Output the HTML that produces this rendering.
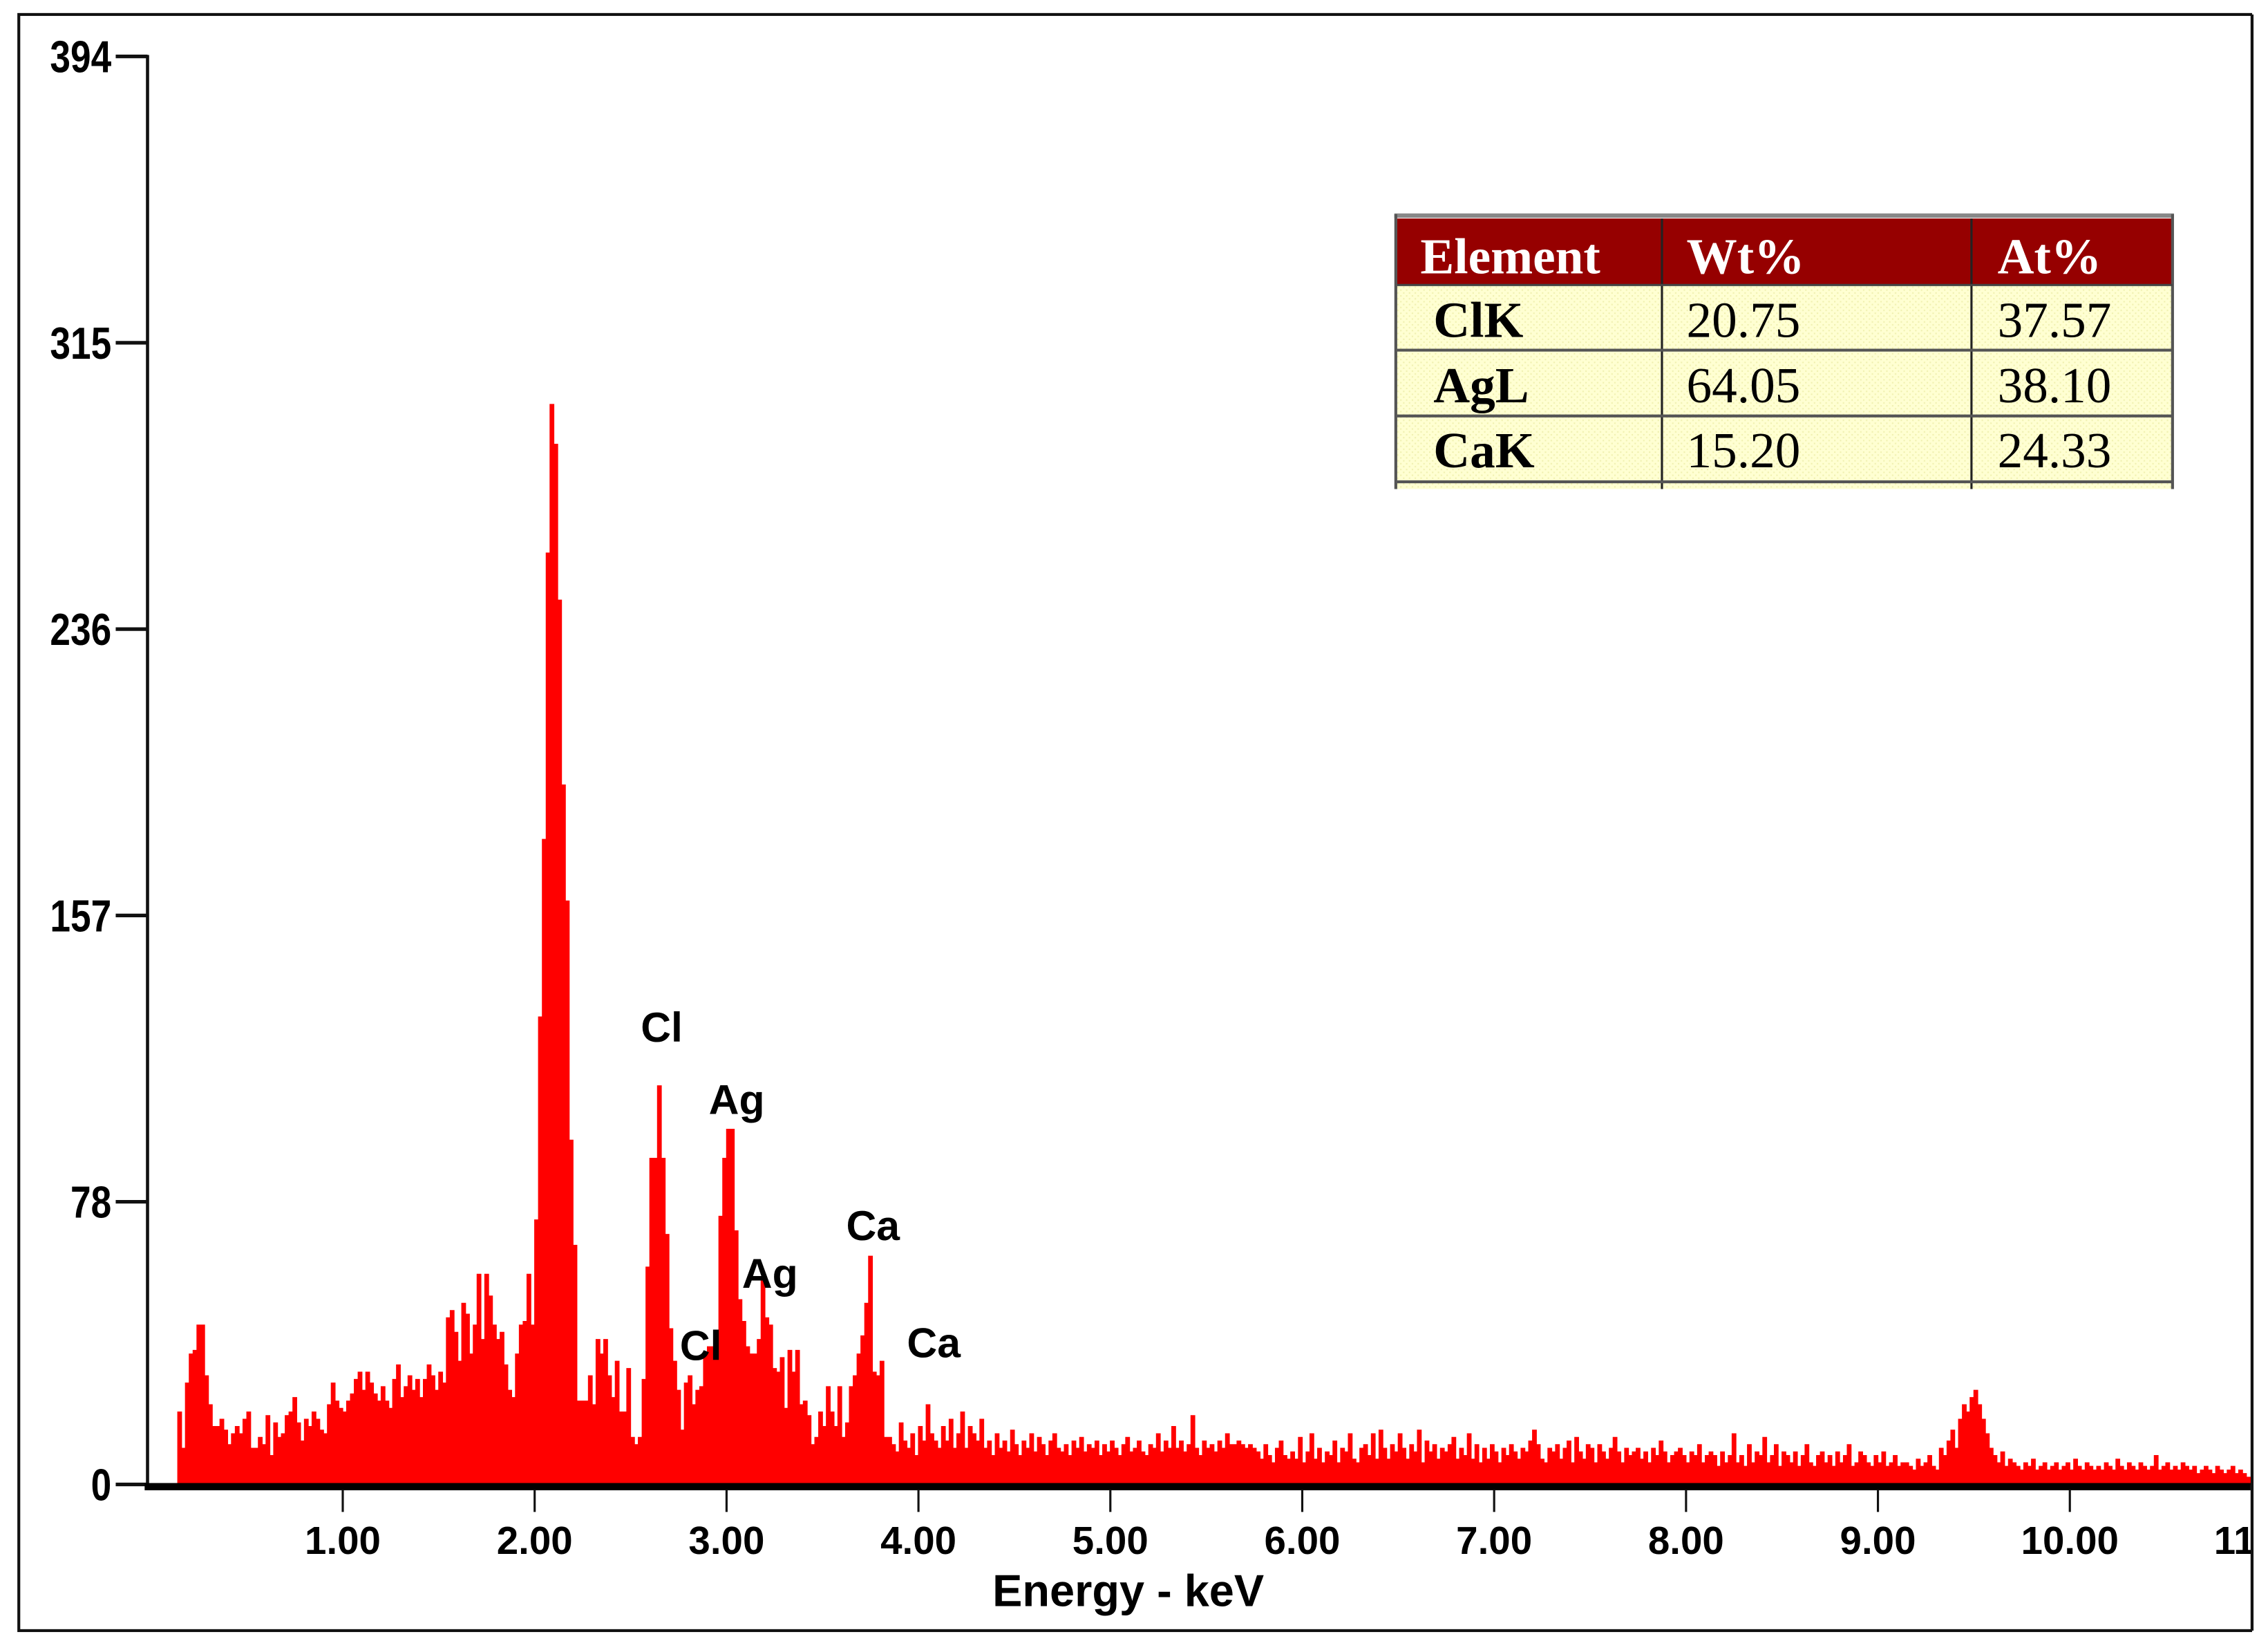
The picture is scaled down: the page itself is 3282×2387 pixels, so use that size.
<!DOCTYPE html>
<html><head><meta charset="utf-8"><style>
html,body{margin:0;padding:0;background:#fff;}
svg{display:block;}
text{font-family:"Liberation Sans",Arial,sans-serif;}
.ser{font-family:"Liberation Serif","Times New Roman",serif;}
</style></head><body>
<svg id="chart" width="3282" height="2387" viewBox="0 0 1568 1140.4" xmlns="http://www.w3.org/2000/svg">
<defs>
<pattern id="dots" width="4" height="4" patternUnits="userSpaceOnUse"><rect width="4" height="4" fill="#ffffd2"/><rect x="0" y="0" width="1" height="1" fill="#f0f0b0"/><rect x="2" y="2" width="1" height="1" fill="#f0f0b0"/></pattern>
</defs>
<rect x="13" y="10" width="1544" height="1117" fill="#fff" stroke="#111" stroke-width="2"/>
<g id="plot"></g>
<g id="yaxis"></g>
<g id="xaxis"></g>
<text x="780" y="1110" text-anchor="middle" font-size="31" font-weight="bold">Energy - keV</text>
<g font-size="29" font-weight="bold">
<text x="443" y="720">Cl</text>
<text x="490" y="770">Ag</text>
<text x="513" y="890">Ag</text>
<text x="470" y="940">Cl</text>
<text x="585" y="857">Ca</text>
<text x="627" y="938">Ca</text>
</g>
<g>
<rect x="966" y="151" width="536" height="46" fill="#960000"/>
<rect x="966" y="197" width="536" height="141" fill="url(#dots)"/>
<line x1="964" y1="149" x2="1503" y2="149" stroke="#888" stroke-width="3"/>
<line x1="965" y1="148" x2="965" y2="338" stroke="#555" stroke-width="2"/>
<line x1="1502" y1="148" x2="1502" y2="338" stroke="#555" stroke-width="2"/>
<line x1="1149" y1="151" x2="1149" y2="338" stroke="#222" stroke-width="1.5"/>
<line x1="1363" y1="151" x2="1363" y2="338" stroke="#222" stroke-width="1.5"/>
<line x1="966" y1="197" x2="1502" y2="197" stroke="#444" stroke-width="1.5"/>
<line x1="966" y1="242" x2="1502" y2="242" stroke="#555" stroke-width="2"/>
<line x1="966" y1="287.5" x2="1502" y2="287.5" stroke="#555" stroke-width="2"/>
<line x1="966" y1="333" x2="1502" y2="333" stroke="#555" stroke-width="2"/>
<text class="ser" font-size="35" x="982" y="189" fill="#fff" font-weight="bold">Element</text>
<text class="ser" font-size="35" x="1166" y="189" fill="#fff" font-weight="bold">Wt%</text>
<text class="ser" font-size="35" x="1381" y="189" fill="#fff" font-weight="bold">At%</text>
<text class="ser" font-size="35" x="991" y="233" font-weight="bold">ClK</text>
<text class="ser" font-size="35" x="1166" y="233">20.75</text>
<text class="ser" font-size="35" x="1381" y="233">37.57</text>
<text class="ser" font-size="35" x="991" y="278" font-weight="bold">AgL</text>
<text class="ser" font-size="35" x="1166" y="278">64.05</text>
<text class="ser" font-size="35" x="1381" y="278">38.10</text>
<text class="ser" font-size="35" x="991" y="323" font-weight="bold">CaK</text>
<text class="ser" font-size="35" x="1166" y="323">15.20</text>
<text class="ser" font-size="35" x="1381" y="323">24.33</text>
</g>
</svg>
<script>
const startKeV = 0.14;
const binKeV = 0.02;
const counts = [
20,10,28,36,37,44,44,30,22,16,
16,18,15,11,14,16,14,18,20,10,
10,13,11,19,8,17,13,14,19,20,
24,17,12,18,16,20,18,15,14,22,
28,23,21,20,23,25,29,31,26,31,
28,25,23,27,23,21,29,33,24,27,
30,26,29,24,29,33,30,26,31,28,
46,48,42,34,50,47,36,44,58,40,
58,52,44,40,42,33,26,24,36,44,
45,58,44,73,129,178,257,298,287,244,
193,161,95,66,23,23,23,30,22,40,
36,40,30,24,34,20,20,32,13,11,
13,29,60,90,90,110,90,69,43,34,
26,15,28,30,22,26,27,36,38,38,
36,74,90,98,98,70,51,45,38,36,
36,40,57,46,44,32,31,35,21,37,
31,37,22,23,19,11,13,20,16,27,
20,16,27,13,17,27,30,36,41,50,
63,31,30,34,13,13,11,9,17,12,
10,14,8,16,12,22,14,12,10,16,
12,18,10,14,20,10,16,14,12,18,
10,12,8,14,10,12,9,15,11,8,
12,10,14,9,13,11,8,12,14,10,
9,11,8,12,10,13,9,11,10,12,
8,11,9,12,10,8,11,13,9,10,
12,9,8,11,10,14,9,12,10,16,
10,12,9,11,19,10,8,12,10,11,
9,12,10,14,11,11,12,11,10,11,
10,9,7,11,8,6,10,12,8,7,
9,7,13,6,9,14,7,10,6,9,
8,12,6,10,9,14,7,6,10,11,
8,14,7,15,10,7,11,9,14,10,
7,11,9,15,6,12,9,11,7,10,
9,11,13,7,10,8,14,7,11,6,
10,7,11,9,6,10,8,11,9,7,
10,9,12,15,11,7,6,10,9,11,
7,10,12,6,13,9,7,11,10,6,
11,9,7,10,13,9,6,10,8,9,
10,7,9,6,10,8,12,9,6,8,
9,10,8,6,9,8,11,6,8,9,
8,5,9,6,8,14,6,8,5,11,
6,9,8,13,6,8,11,5,9,8,
6,9,5,8,11,6,5,8,9,6,
8,5,9,6,8,11,5,6,9,8,
6,5,8,6,9,5,6,8,5,6,
6,5,4,7,5,6,8,5,4,10,
8,12,15,10,18,22,20,24,26,22,
18,14,10,8,6,9,5,7,6,5,
4,6,5,7,4,5,6,4,5,6,
4,5,6,4,7,5,4,6,5,4,
5,4,6,5,4,7,5,4,6,5,
4,6,5,4,5,8,4,5,6,4,
5,4,6,5,4,5,3,4,5,4,
3,5,4,3,4,5,3,4,3,2,
2
];
const yTickValues = [0, 78, 157, 236, 315, 394];
const yTickLabels = ["0", "78", "157", "236", "315", "394"];
const xTickValues = [1,2,3,4,5,6,7,8,9,10,11];
const xTickLabels = ["1.00","2.00","3.00","4.00","5.00","6.00","7.00","8.00","9.00","10.00","11.00"];

const NS = "http://www.w3.org/2000/svg";
const X0 = 104.3, XPER = 132.67, XMAXPX = 1556;
const Y0 = 1026, YMAX = 394, YTOPPX = 39;
function xs(k){ return X0 + k * XPER; }
function ys(v){ return Y0 - v * (Y0 - YTOPPX) / YMAX; }
function mk(tag, attrs){ const e = document.createElementNS(NS, tag); for (const k in attrs) e.setAttribute(k, attrs[k]); return e; }

const plot = document.getElementById('plot');
let d = "M" + xs(startKeV).toFixed(2) + "," + Y0;
counts.forEach((c, i) => {
  const a = Math.min(xs(startKeV + i * binKeV), XMAXPX);
  const b = Math.min(xs(startKeV + (i + 1) * binKeV), XMAXPX);
  d += "L" + a.toFixed(2) + "," + ys(c).toFixed(2) + "L" + b.toFixed(2) + "," + ys(c).toFixed(2);
});
d += "L" + Math.min(xs(startKeV + counts.length * binKeV), XMAXPX).toFixed(2) + "," + Y0 + "Z";
const spec = mk('path', {d: d, fill: '#ff0000', stroke: '#ff0000', 'stroke-width': '0.6'});


plot.appendChild(spec);

const ya = document.getElementById('yaxis');
const yl = mk('line', {x1: 102, y1: ys(394) - 1, x2: 102, y2: Y0, stroke: '#111', 'stroke-width': 2.2});


ya.appendChild(yl);
yTickValues.forEach((v, i) => {
  const t = mk('line', {x1: 80, y1: ys(v), x2: 102, y2: ys(v), stroke: '#111', 'stroke-width': 2.5});
  
  
  ya.appendChild(t);
  const lb = mk('text', {x: 0, y: 0, 'text-anchor': 'end', 'font-size': 31, 'font-weight': 'bold', transform: 'translate(77,' + (ys(v) + 11) + ') scale(0.82,1)'});
  lb.textContent = yTickLabels[i];
  
  
  ya.appendChild(lb);
});

const xa = document.getElementById('xaxis');
const xl = mk('rect', {x: 100, y: Y0 - 1, width: XMAXPX - 100, height: 5, fill: '#000'});


xa.appendChild(xl);
xTickValues.forEach((v, i) => {
  const x = xs(v);
  const t = mk('line', {x1: x, y1: Y0 + 4, x2: x, y2: 1045, stroke: '#111', 'stroke-width': 1.5});
  
  
  if (x <= XMAXPX) xa.appendChild(t);
  const lb = mk('text', {x: x, y: 1074, 'text-anchor': 'middle', 'font-size': 27, 'font-weight': 'bold'});
  lb.textContent = xTickLabels[i];
  
  
  xa.appendChild(lb);
});
const cover = mk('rect', {x: 1557, y: 0, width: 11, height: 1140, fill: '#fff'});


document.getElementById('chart').appendChild(cover);
const rb = mk('line', {x1: 1557, y1: 10, x2: 1557, y2: 1127, stroke: '#111', 'stroke-width': 2});


document.getElementById('chart').appendChild(rb);
</script>
</body></html>
